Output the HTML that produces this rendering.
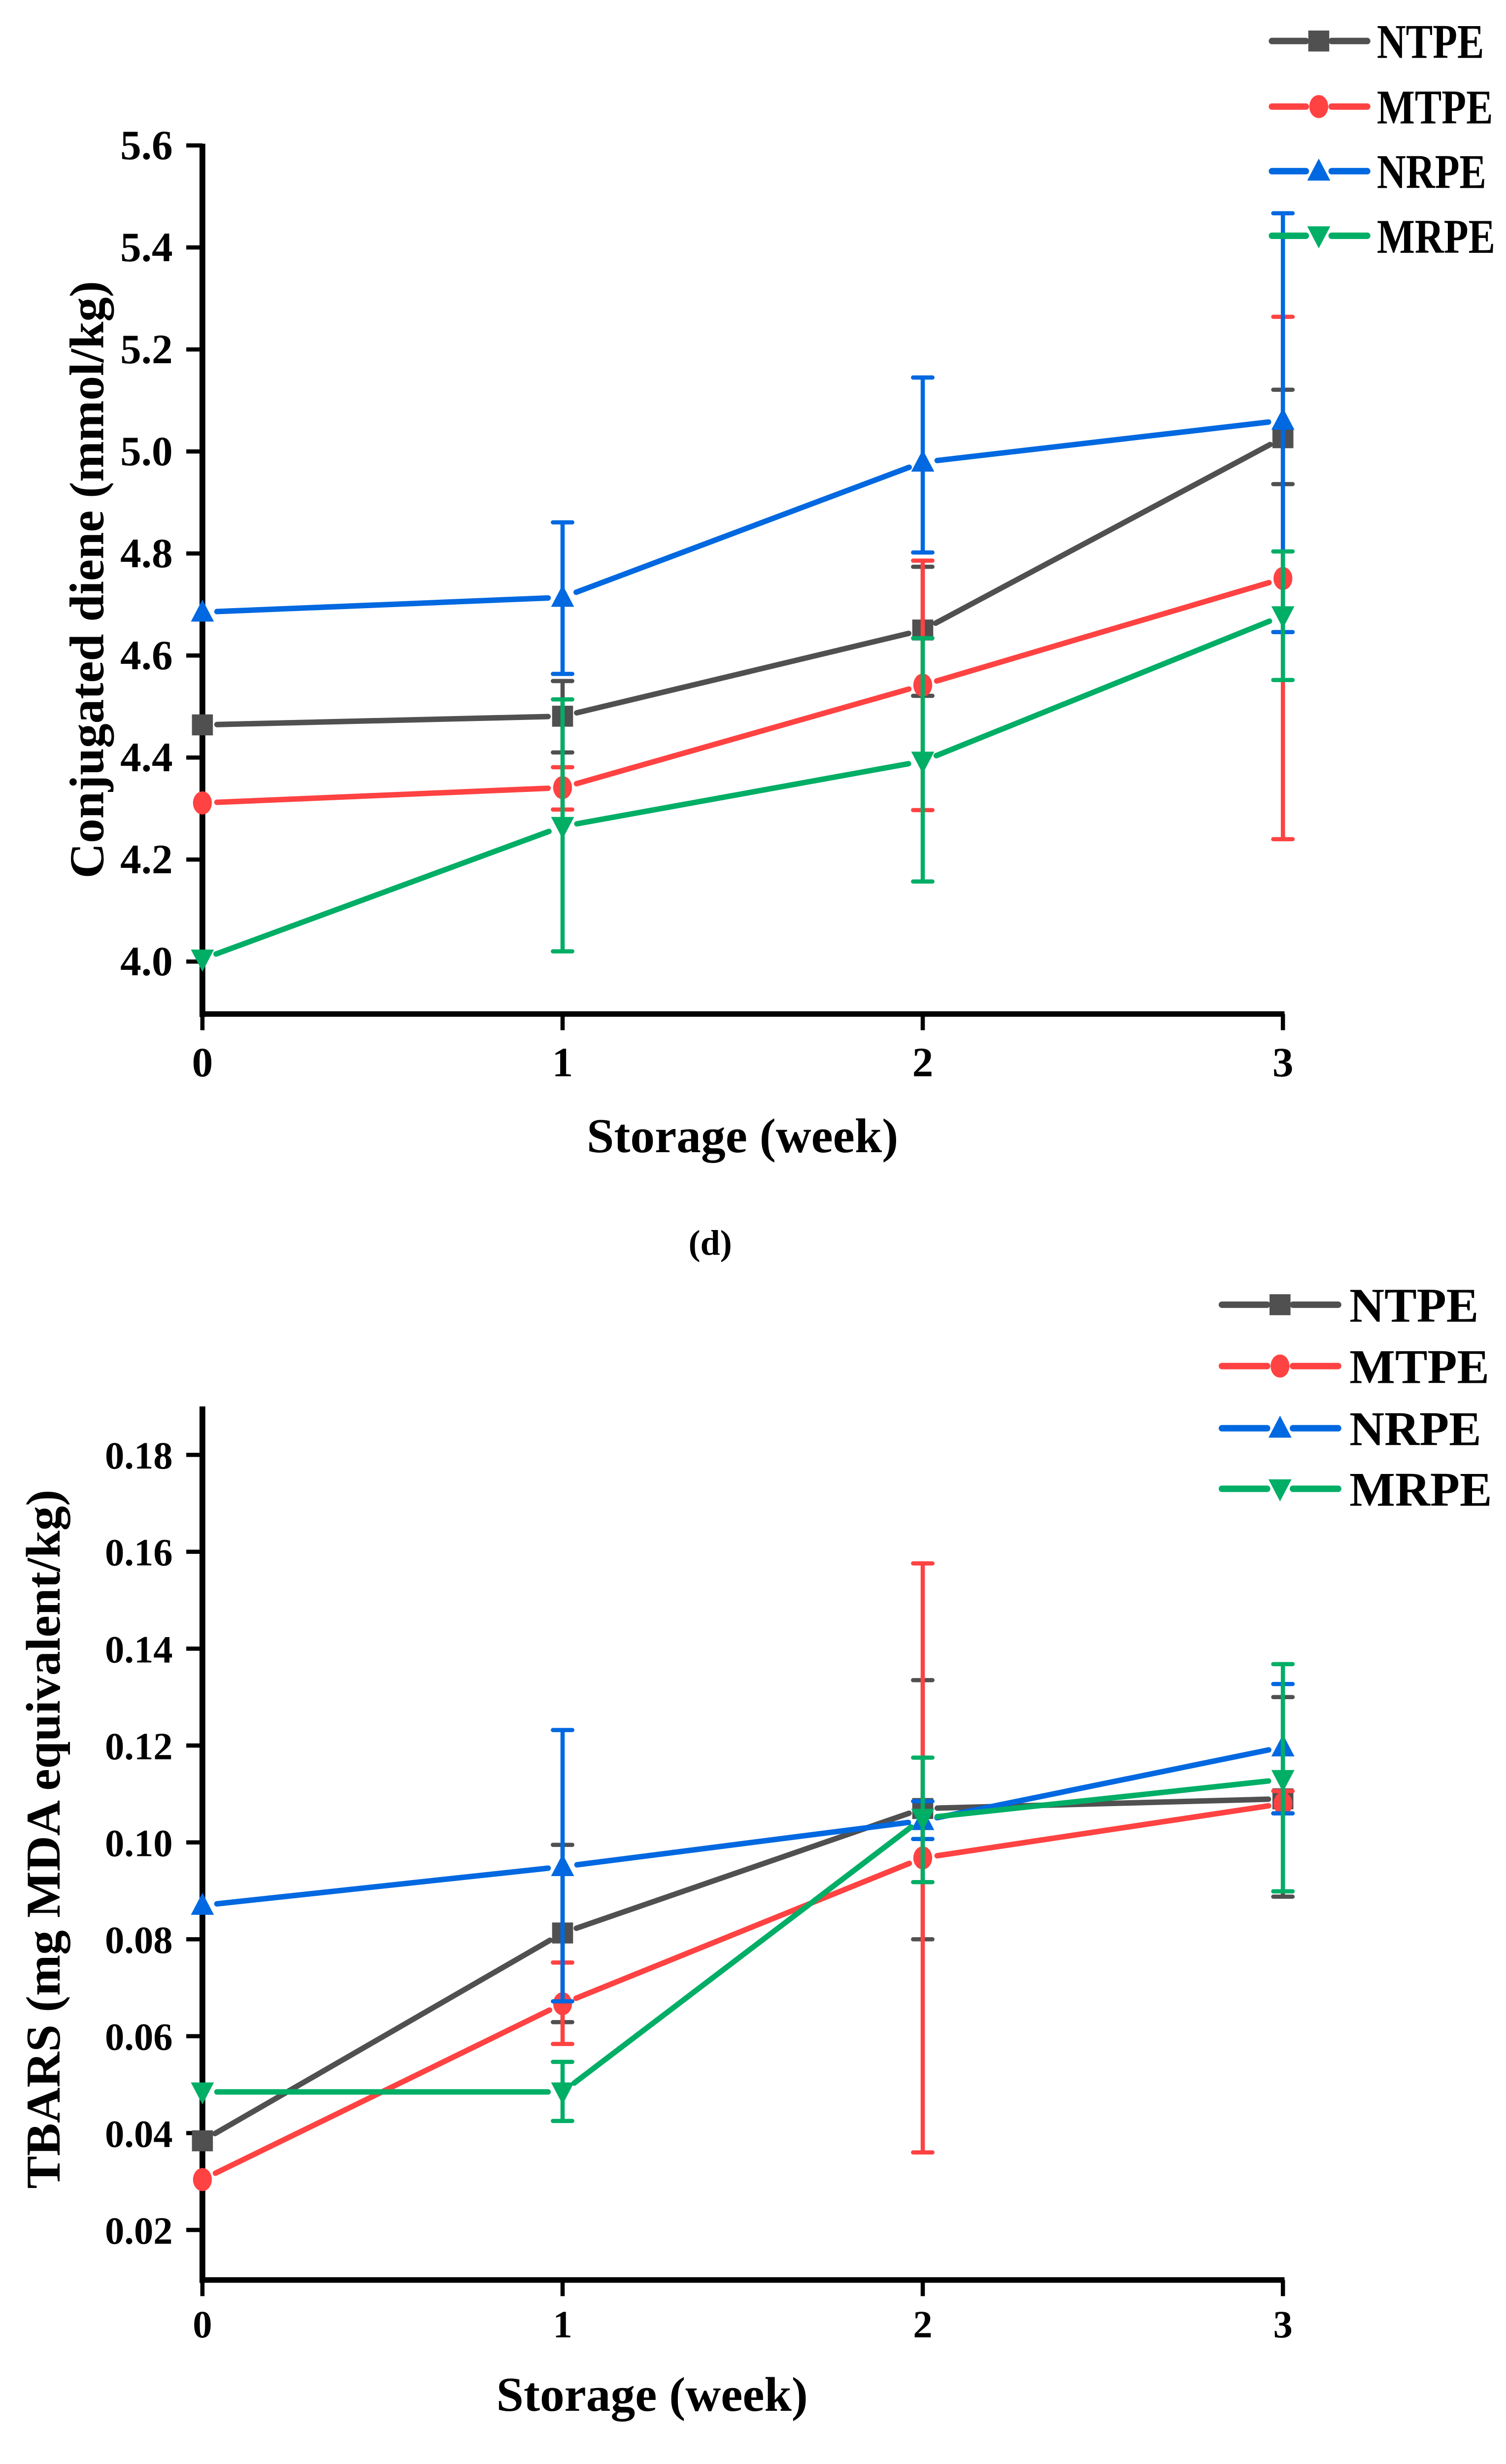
<!DOCTYPE html>
<html><head><meta charset="utf-8"><style>
html,body{margin:0;padding:0;background:#fff;width:3057px;height:5164px;overflow:hidden}
svg{display:block;position:absolute;left:0;top:0}
text{font-family:"Liberation Serif","Times New Roman",serif;font-weight:bold;fill:#000}
</style></head>
<body>
<svg id="fig" width="3057" height="5164" viewBox="0 0 933 1576" preserveAspectRatio="none" xmlns="http://www.w3.org/2000/svg">
<rect width="933" height="1576" fill="#fff"/>
<g id="chartD"></g>
<g id="chartE"></g>
</svg>
<script>
const weeks = [0, 1, 2, 3];
const seriesNames = ["NTPE", "MTPE", "NRPE", "MRPE"];
// Chart (d) conjugated diene
const cdNTPE = [4.464, 4.481, 4.650, 5.027];
const cdNTPElo = [4.464, 4.41, 4.521, 4.936];
const cdNTPEhi = [4.464, 4.55, 4.774, 5.121];
const cdMTPE = [4.311, 4.341, 4.542, 4.751];
const cdMTPElo = [4.311, 4.298, 4.297, 4.240];
const cdMTPEhi = [4.311, 4.381, 4.786, 5.264];
const cdNRPE = [4.685, 4.714, 4.979, 5.061];
const cdNRPElo = [4.685, 4.564, 4.802, 4.646];
const cdNRPEhi = [4.685, 4.861, 5.145, 5.467];
const cdMRPE = [4.005, 4.265, 4.393, 4.678];
const cdMRPElo = [4.005, 4.02, 4.157, 4.552];
const cdMRPEhi = [4.005, 4.514, 4.634, 4.804];
const cdTicks = ["4.0","4.2","4.4","4.6","4.8","5.0","5.2","5.4","5.6"];
// Chart (e) TBARS
const tbNTPE = [0.0384, 0.0813, 0.107, 0.109];
const tbNTPElo = [0.0384, 0.0629, 0.080, 0.0888];
const tbNTPEhi = [0.0384, 0.0995, 0.1335, 0.130];
const tbMTPE = [0.0304, 0.0667, 0.0968, 0.108];
const tbMTPElo = [0.0304, 0.0584, 0.036, 0.106];
const tbMTPEhi = [0.0304, 0.0752, 0.1576, 0.1106];
const tbNRPE = [0.087, 0.095, 0.1045, 0.1197];
const tbNRPElo = [0.087, 0.0672, 0.1007, 0.106];
const tbNRPEhi = [0.087, 0.1232, 0.1085, 0.1327];
const tbMRPE = [0.0485, 0.0485, 0.105, 0.113];
const tbMRPElo = [0.0485, 0.0425, 0.0918, 0.0899];
const tbMRPEhi = [0.0485, 0.0547, 0.1175, 0.1368];
const tbTicks = ["0.02","0.04","0.06","0.08","0.10","0.12","0.14","0.16","0.18"];

const colors = ["#505050", "#ff4242", "#0068e0", "#00ae66"];
const shapes = ["square", "circle", "up", "down"];
const NS = "http://www.w3.org/2000/svg";
function mk(tag, attrs, parent){const e=document.createElementNS(NS,tag);for(const k in attrs)e.setAttribute(k,attrs[k]);parent.appendChild(e);return e;}

function marker(g, shape, x, y, c, s){
  let e;
  if(shape==="square") e=mk("rect",{x:x-s/2,y:y-s/2,width:s,height:s,fill:c},g);
  else if(shape==="circle") e=mk("ellipse",{cx:x,cy:y,rx:s*0.45,ry:s*0.55,fill:c},g);
  else if(shape==="up") e=mk("polygon",{points:`${x},${y-s*0.6} ${x-s*0.55},${y+s*0.45} ${x+s*0.55},${y+s*0.45}`,fill:c},g);
  else e=mk("polygon",{points:`${x},${y+s*0.6} ${x-s*0.55},${y-s*0.45} ${x+s*0.55},${y-s*0.45}`,fill:c},g);
  return e;
}

function drawChart(g, cfg){
  const xS = w => cfg.x0 + w*(cfg.x3-cfg.x0)/3;
  const yS = v => cfg.yBase - (v-cfg.vBase)*cfg.pxPerUnit;
  const ya=mk("line",{x1:cfg.x0,y1:cfg.axTop,x2:cfg.x0,y2:cfg.axBot+1.8,stroke:"#000","stroke-width":3.6},g);
  
  
  const xa=mk("line",{x1:cfg.x0-1.8,y1:cfg.axBot,x2:cfg.x3+1,y2:cfg.axBot,stroke:"#000","stroke-width":3.4},g);
  
  
  cfg.ticks.forEach(t=>{
    const y=yS(parseFloat(t));
    const l=mk("line",{x1:cfg.x0-10,y1:y,x2:cfg.x0,y2:y,stroke:"#000","stroke-width":2.6},g);
    
    
    const tx=mk("text",{x:107,y:y+8.5,"text-anchor":"end","font-size":cfg.tickFont},g);
    tx.textContent=t;
    
    
  });
  weeks.forEach(w=>{
    const x=xS(w);
    const l=mk("line",{x1:x,y1:cfg.axBot,x2:x,y2:cfg.axBot+10,stroke:"#000","stroke-width":2.6},g);
    
    
    const tx=mk("text",{x:x,y:cfg.xTickY+8.5,"text-anchor":"middle","font-size":cfg.tickFont},g);
    tx.textContent=String(w);
    
    
  });
  const xt=mk("text",{x:cfg.xTitleX,y:cfg.xTitleY,"text-anchor":"middle","font-size":30,textLength:193,lengthAdjust:"spacingAndGlyphs"},g);
  xt.textContent="Storage (week)";
  
  
  const yt=mk("text",{transform:`translate(${cfg.yTitleX},${cfg.yTitleY}) rotate(-90)`,x:0,y:0,"text-anchor":"middle","font-size":30,textLength:cfg.yTitleLen,lengthAdjust:"spacingAndGlyphs"},g);
  yt.textContent=cfg.yTitle;
  
  
  const pl=mk("text",{x:cfg.panelX,y:cfg.panelY,"text-anchor":"middle","font-size":22},g);
  pl.textContent=cfg.panel;
  
  
  cfg.series.forEach((s,i)=>{
    const sg=mk("g",{},g);
    
    
    const c=colors[i];
    weeks.forEach((w,k)=>{
      if(s.hi[k]===s.lo[k]) return;
      const x=xS(w);
      const eb=mk("path",{d:`M${x},${yS(s.lo[k])}V${yS(s.hi[k])}M${x-6},${yS(s.lo[k])}H${x+6}M${x-6},${yS(s.hi[k])}H${x+6}`,stroke:c,"stroke-width":2.6,"stroke-linecap":"round",fill:"none"},sg);
      
      
    });
    for(let k=0;k<weeks.length-1;k++){
      const xa=xS(weeks[k]), ya=yS(s.v[k]), xb=xS(weeks[k+1]), yb=yS(s.v[k+1]);
      const dx=xb-xa, dy=yb-ya, L=Math.hypot(dx,dy), gap=9;
      const seg=mk("line",{x1:xa+dx*gap/L,y1:ya+dy*gap/L,x2:xb-dx*gap/L,y2:yb-dy*gap/L,stroke:c,"stroke-width":3.4,"stroke-linecap":"round"},sg);
      
      
    }
    weeks.forEach((w,k)=>{
      const m=marker(sg,shapes[i],xS(w),yS(s.v[k]),c,13);
      
      
    });
  });
  seriesNames.forEach((n,i)=>{
    const lg=mk("g",{},g);
    
    
    const y=cfg.legY[i], c=colors[i];
    mk("line",{x1:cfg.legX1,y1:y,x2:cfg.legMk-8,y2:y,stroke:c,"stroke-width":4,"stroke-linecap":"round"},lg);
    mk("line",{x1:cfg.legMk+8,y1:y,x2:cfg.legX2,y2:y,stroke:c,"stroke-width":4,"stroke-linecap":"round"},lg);
    marker(lg,shapes[i],cfg.legMk,y,c,13);
    const t=mk("text",{transform:`translate(${cfg.legTx},${y+10.5}) scale(${cfg.legSx},1)`,x:0,y:0,"font-size":30},lg);
    t.textContent=n;
  });
}

drawChart(document.getElementById("chartD"),{
  x0:125.4, x3:794.8, yBase:595.5, vBase:4.0, pxPerUnit:315.9, axTop:89, axBot:628,
  ticks:cdTicks, tickFont:26, xTickY:658, xTitleX:460, xTitleY:713.5,
  yTitle:"Conjugated diene (mmol/kg)", yTitleX:64, yTitleY:359, yTitleLen:370,
  panel:"(d)", panelX:440, panelY:777,
  series:[
    {v:cdNTPE,lo:cdNTPElo,hi:cdNTPEhi},
    {v:cdMTPE,lo:cdMTPElo,hi:cdMTPEhi},
    {v:cdNRPE,lo:cdNRPElo,hi:cdNRPEhi},
    {v:cdMRPE,lo:cdMRPElo,hi:cdMRPEhi}],
  legY:[25.4,66,106,146], legX1:788, legX2:847, legMk:817, legTx:853, legSx:0.83
});
drawChart(document.getElementById("chartE"),{
  x0:125.4, x3:794.8, yBase:1381, vBase:0.02, pxPerUnit:3000, axTop:871, axBot:1412,
  ticks:tbTicks, tickFont:24, xTickY:1439, xTitleX:404, xTitleY:1493,
  yTitle:"TBARS (mg MDA equivalent/kg)", yTitleX:37, yTitleY:1139, yTitleLen:433,
  panel:"(e)", panelX:442, panelY:1558,
  series:[
    {v:tbNTPE,lo:tbNTPElo,hi:tbNTPEhi},
    {v:tbMTPE,lo:tbMTPElo,hi:tbMTPEhi},
    {v:tbNRPE,lo:tbNRPElo,hi:tbNRPEhi},
    {v:tbMRPE,lo:tbMRPElo,hi:tbMRPEhi}],
  legY:[808,846,884.5,922], legX1:757, legX2:829, legMk:793, legTx:836, legSx:1.0
});
</script>
</body></html>
